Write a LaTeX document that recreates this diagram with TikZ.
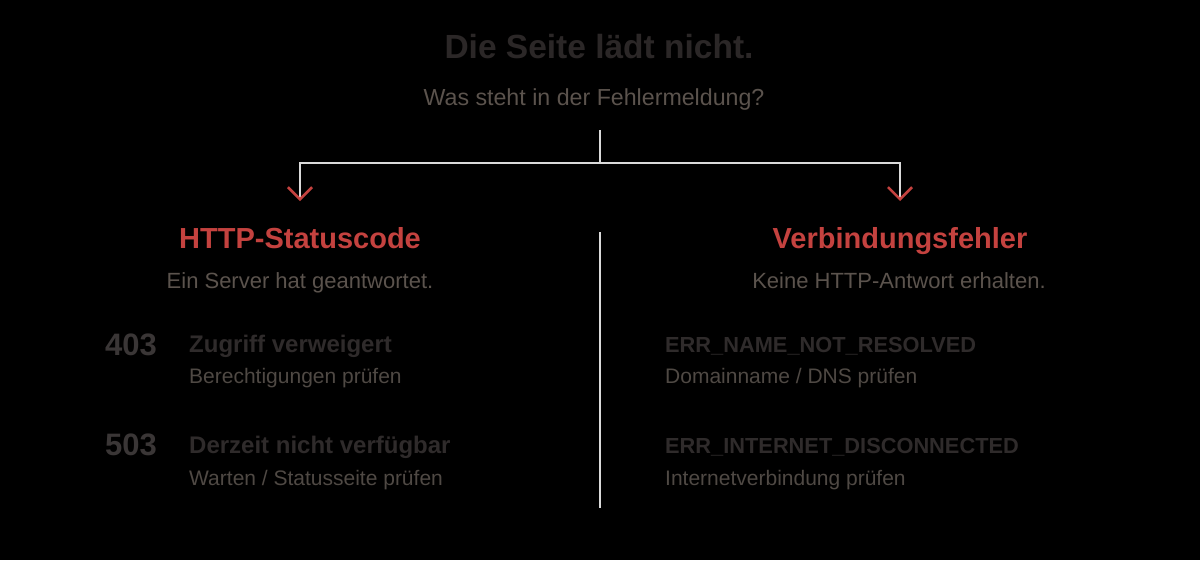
\documentclass[tikz,border=0pt]{standalone}
\usepackage{fontspec}
\setmainfont{Liberation Sans}
\usetikzlibrary{arrows.meta}

\definecolor{titlegray}{HTML}{2B2727}
\definecolor{subgray}{HTML}{5B534D}
\definecolor{errred}{HTML}{C4423F}
\definecolor{linegray}{HTML}{DADADA}
\definecolor{codegray}{HTML}{3A3636}
\definecolor{itemgray}{HTML}{2F2B2B}
\definecolor{descgray}{HTML}{4F4944}

\begin{document}
\begin{tikzpicture}[x=1pt, y=-1pt,
	every node/.style={inner sep=0pt, anchor=base},
	ttl/.style={text=titlegray, font=\fontsize{33.5}{40}\selectfont\bfseries},
	sub/.style={text=subgray, font=\fontsize{23.2}{28}\selectfont},
	subs/.style={text=subgray, font=\fontsize{22}{26}\selectfont},
	head/.style={text=errred, font=\fontsize{29}{34}\selectfont\bfseries},
	code/.style={text=codegray, font=\fontsize{31}{37}\selectfont\bfseries, anchor=base west},
	item/.style={text=itemgray, font=\fontsize{24}{29}\selectfont\bfseries, anchor=base west},
	err/.style={text=itemgray, font=\fontsize{21.8}{26}\selectfont\bfseries, anchor=base west},
	desc/.style={text=descgray, font=\fontsize{21}{25}\selectfont, anchor=base west},
	line/.style={draw=linegray, line width=2.4pt},
	arrows={-{Straight Barb[color=errred, length=12pt, width=24pt, line width=2.6pt]}}]
	\fill[black] (0,0) rectangle (1200,560);
	\useasboundingbox (0,0) rectangle (1200,560);

	\node[ttl] (T) at (599,58) {Die Seite lädt nicht.};
	\node[sub] (Q) at (594,105) {Was steht in der Fehlermeldung?};

	\coordinate (Qb) at (600,130);
	\coordinate (J) at (600,163);
	\coordinate (Ha) at (300,201);
	\coordinate (Va) at (900,201);

	\draw[line, -] (Qb) -- (J);
	\draw[line] (J) -| (Ha);
	\draw[line] (J) -| (Va);

	\node[head] (H) at (300,248) {HTTP-Statuscode};
	\node[subs] (Hs) at (300,288) {Ein Server hat geantwortet.};
	\node[head] (V) at (900,248) {Verbindungsfehler};
	\node[subs] (Vs) at (899,288) {Keine HTTP-Antwort erhalten.};

	\draw[line, -] (600,232) -- (600,508);

	% left column
	\node[code] (C1) at (105,355) {403};
	\node[item] (I1) at (189,352) {Zugriff verweigert};
	\node[desc] (D1) at (189,383) {Berechtigungen prüfen};
	\node[code] (C2) at (105,455) {503};
	\node[item] (I2) at (189,453) {Derzeit nicht verfügbar};
	\node[desc] (D2) at (189,485) {Warten / Statusseite prüfen};

	% right column
	\node[err] (E1) at (665,352) {ERR\_NAME\_NOT\_RESOLVED};
	\node[desc] (F1) at (665,383) {Domainname / DNS prüfen};
	\node[err] (E2) at (665,453) {ERR\_INTERNET\_DISCONNECTED};
	\node[desc] (F2) at (665,485) {Internetverbindung prüfen};
\end{tikzpicture}
\end{document}
